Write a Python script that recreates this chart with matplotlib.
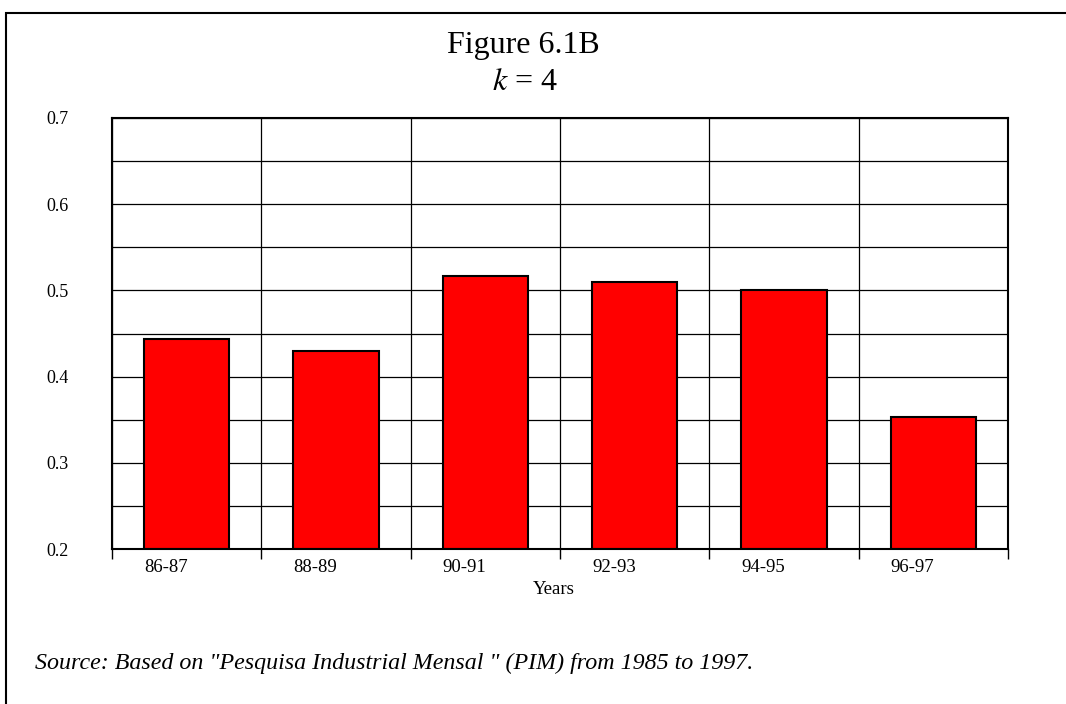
import matplotlib
matplotlib.use("Agg")
import matplotlib.pyplot as plt
from matplotlib.patches import Rectangle
import numpy as np

categories = ["86-87", "88-89", "90-91", "92-93", "94-95", "96-97"]
values = [0.444, 0.430, 0.517, 0.510, 0.501, 0.353]
yticks = [0.2, 0.3, 0.4, 0.5, 0.6, 0.7]

plt.rcParams['font.family'] = ['Liberation Serif', 'DejaVu Serif']

fig = plt.figure(figsize=(10.66, 7.04), dpi=100)
ax = fig.add_axes([112/1066, 1-549/704, (1008-112)/1066, (549-118)/704])

width = 0.57
x = np.arange(len(categories)) + 0.5
ax.bar(x, [v - 0.2 for v in values], bottom=0.2, width=width, color='#ff0000',
       edgecolor='black', linewidth=1.5, zorder=3)

ax.set_xlim(0, len(categories))
ax.set_ylim(0.2, 0.7)

# vertical grid at category boundaries
ax.set_xticks(np.arange(len(categories) + 1))
ax.set_xticklabels([])
ax.tick_params(axis='x', which='major', length=7, width=1, direction='out', color='black')
ax.set_xticks(x - width / 2, minor=True)
ax.set_xticklabels(categories, minor=True, ha='left', fontsize=13.5)
ax.tick_params(axis='x', which='minor', length=0, pad=7)

ax.set_yticks(yticks)
ax.set_yticklabels([f"{t:.1f}" for t in yticks], fontsize=13)
ax.set_yticks(np.arange(0.25, 0.7, 0.1), minor=True)
ax.tick_params(axis='y', which='both', length=0, pad=31)

ax.grid(True, which='major', axis='both', color='black', linewidth=0.9, zorder=0)
ax.grid(True, which='minor', axis='y', color='black', linewidth=0.9, zorder=0)
ax.set_axisbelow(True)

for s in ax.spines.values():
    s.set_linewidth(1.5)
    s.set_zorder(4)

fig.text(554/1066, 1-589/704, "Years", ha='center', va='center', fontsize=13.5)

fig.text(523/1066, 1-46/704, "Figure 6.1B", ha='center', va='center', fontsize=23)
fig.text(525/1066, 1-82/704, r"$k$ = 4", ha='center', va='center', fontsize=23,
         math_fontfamily='stix')
fig.text(35/1066, 1-663/704,
         'Source: Based on "Pesquisa Industrial Mensal " (PIM) from 1985 to 1997.',
         ha='left', va='center', fontsize=17.3, style='italic')

# outer frame
fig.add_artist(Rectangle((6/1066, -0.05), 1.2, 1 - 13/704 + 0.05, transform=fig.transFigure,
                         fill=False, edgecolor='black', linewidth=1.5))

fig.savefig("out.png", dpi=100)
